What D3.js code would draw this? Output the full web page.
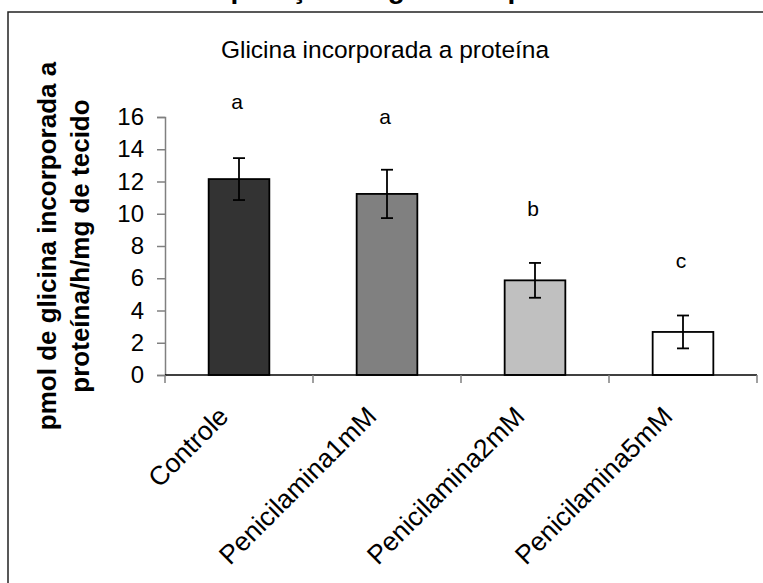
<!DOCTYPE html>
<html><head><meta charset="utf-8">
<script src="https://cdn.jsdelivr.net/npm/d3@7"></script>
<style>body{margin:0;background:#fff}svg{display:block}</style>
</head><body>
<svg id="c" width="763" height="583"></svg>
<script>
const categories = ["Controle", "Penicilamina1mM", "Penicilamina2mM", "Penicilamina5mM"];
const values = [12.15, 11.23, 5.87, 2.67];
const errors = [1.3, 1.5, 1.08, 1.02];
const letters = ["a", "a", "b", "c"];
const letterLevels = [16.5, 15.55, 9.84, 6.66];
const colors = ["#333333", "#808080", "#c0c0c0", "#ffffff"];
const yTicks = [0, 2, 4, 6, 8, 10, 12, 14, 16];
const title = "Glicina incorporada a proteína";
const topTitle = "Incorporação de glicina à proteína";
const yTitle = ["pmol de glicina incorporada a", "proteína/h/mg de tecido"];

const svg = d3.select("#c");
const font = "'Liberation Sans', Arial, sans-serif";

// outer frame (clipped at right/bottom)
svg.append("path").attr("d", "M8,583V12H763").attr("fill", "none").attr("stroke", "#222").attr("stroke-width", 1.5);

// clipped top title (only descenders visible)
svg.append("text").attr("x", 390).attr("y", -2).attr("text-anchor", "middle")
  .attr("font-family", font).attr("font-weight", "bold").attr("font-size", 28).text(topTitle);

const x = d3.scaleBand().domain(categories).range([165, 757]).padding(0);
const y = d3.scaleLinear().domain([0, 16]).range([375, 117]);
const bw = x.bandwidth();
const barW = bw * 0.41;

// y axis
const yAxis = svg.append("g").attr("transform", "translate(165,0)")
  .call(d3.axisLeft(y).tickValues(yTicks).tickSize(8).tickPadding(13).tickFormat(d3.format("d")));
yAxis.select(".domain").attr("stroke", "#808080").attr("stroke-width", 1.5);
yAxis.selectAll(".tick line").attr("stroke", "#808080").attr("stroke-width", 1.5);
yAxis.selectAll(".tick text").attr("font-family", font).attr("font-size", 24).attr("fill", "#000");

// bars
svg.selectAll("rect.bar").data(categories).enter().append("rect")
  .attr("x", (d) => x(d) + (bw - barW) / 2)
  .attr("width", barW)
  .attr("y", (d, i) => y(values[i]))
  .attr("height", (d, i) => y(0) - y(values[i]))
  .attr("fill", (d, i) => colors[i])
  .attr("stroke", "#000").attr("stroke-width", 1.8);

// error bars
const eg = svg.append("g").attr("stroke", "#000").attr("stroke-width", 1.8);
categories.forEach((c, i) => {
  const cx = x(c) + bw / 2;
  eg.append("line").attr("x1", cx).attr("x2", cx).attr("y1", y(values[i] + errors[i])).attr("y2", y(values[i] - errors[i]));
  eg.append("line").attr("x1", cx - 6).attr("x2", cx + 6).attr("y1", y(values[i] + errors[i])).attr("y2", y(values[i] + errors[i]));
  eg.append("line").attr("x1", cx - 6).attr("x2", cx + 6).attr("y1", y(values[i] - errors[i])).attr("y2", y(values[i] - errors[i]));
});

// x axis
const xAxis = svg.append("g").attr("transform", "translate(0,375)");
xAxis.append("line").attr("x1", 165).attr("x2", 757).attr("stroke", "#000").attr("stroke-width", 1.5);
const bounds = categories.map(c => x(c)).concat([x.range()[1]]);
xAxis.selectAll("line.t").data(bounds).enter().append("line")
  .attr("x1", d => d).attr("x2", d => d).attr("y1", 0).attr("y2", 8)
  .attr("stroke", "#808080").attr("stroke-width", 1.5);
xAxis.selectAll("text").data(categories).enter().append("text")
  .attr("transform", d => `translate(${x(d) + bw / 2 - 9},43) rotate(-45)`)
  .attr("text-anchor", "end").attr("font-family", font).attr("font-size", 26.5).text(d => d);

// significance letters
svg.selectAll("text.sig").data(letters).enter().append("text")
  .attr("x", (d, i) => x(categories[i]) + bw / 2 - 2)
  .attr("y", (d, i) => y(letterLevels[i]))
  .attr("text-anchor", "middle").attr("font-family", font).attr("font-size", 21).text(d => d);

// chart title
svg.append("text").attr("x", 385).attr("y", 58).attr("text-anchor", "middle")
  .attr("font-family", font).attr("font-size", 24.5).text(title);

// y title
const yt = svg.append("text").attr("transform", "translate(0,246) rotate(-90)")
  .attr("text-anchor", "middle").attr("font-family", font).attr("font-weight", "bold").attr("font-size", 26);
yt.append("tspan").attr("x", 0).attr("y", 56).text(yTitle[0]);
yt.append("tspan").attr("x", 0).attr("y", 89).text(yTitle[1]);
</script>
</body></html>
